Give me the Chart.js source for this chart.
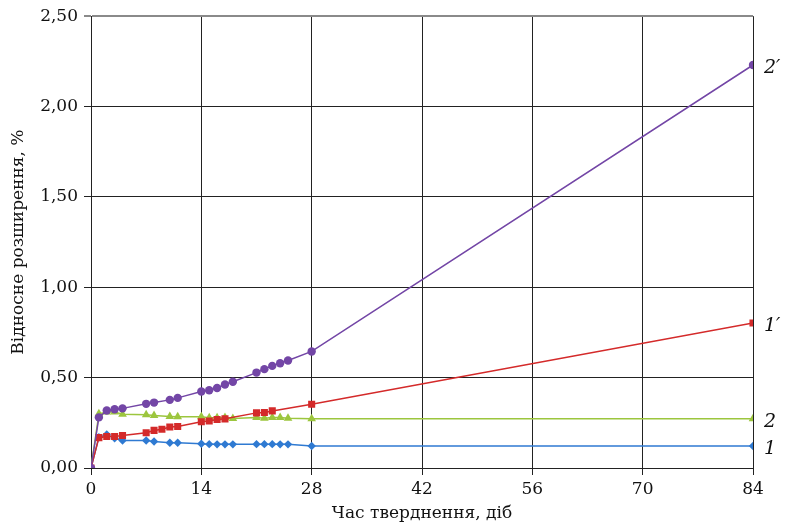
<!DOCTYPE html>
<html>
<head>
<meta charset="utf-8">
<script src="https://cdn.jsdelivr.net/npm/chart.js@4"></script>
<style>
  html, body { margin: 0; padding: 0; background: #fff; }
  #wrap { width: 785px; height: 528px; position: relative; }
</style>
</head>
<body>
<div id="wrap"><canvas id="expChart"></canvas></div>
<script>
// days of hardening and relative expansion (%) per curve
const days2p = [0, 1, 2, 3, 4, 7, 8, 10, 11, 14, 15, 16, 17, 18, 21, 22, 23, 24, 25, 28, 84];
const vals2p = [0, 0.28, 0.318, 0.325, 0.33, 0.355, 0.362, 0.377, 0.388, 0.423, 0.43, 0.443, 0.462, 0.477, 0.528, 0.547, 0.565, 0.58, 0.595, 0.645, 2.23];

const days1p = [0, 1, 2, 3, 4, 7, 8, 9, 10, 11, 14, 15, 16, 17, 21, 22, 23, 28, 84];
const vals1p = [0, 0.168, 0.174, 0.174, 0.18, 0.195, 0.208, 0.214, 0.227, 0.23, 0.256, 0.26, 0.268, 0.272, 0.305, 0.307, 0.316, 0.353, 0.802];

const days2 = [0, 1, 2, 3, 4, 7, 8, 10, 11, 14, 15, 16, 17, 18, 21, 22, 23, 24, 25, 28, 84];
const vals2 = [0, 0.30, 0.31, 0.31, 0.298, 0.294, 0.29, 0.285, 0.283, 0.283, 0.278, 0.278, 0.28, 0.274, 0.28, 0.275, 0.28, 0.279, 0.275, 0.272, 0.272];

const days1 = [0, 1, 2, 3, 4, 7, 8, 10, 11, 14, 15, 16, 17, 18, 21, 22, 23, 24, 25, 28, 84];
const vals1 = [0, 0.17, 0.185, 0.165, 0.152, 0.152, 0.147, 0.14, 0.14, 0.134, 0.132, 0.131, 0.131, 0.131, 0.132, 0.132, 0.132, 0.131, 0.131, 0.122, 0.122];

const xTicks = [0, 14, 28, 42, 56, 70, 84];
const yTicks = [0, 0.5, 1.0, 1.5, 2.0, 2.5];
const curveNames = ['2′', '1′', '2', '1'];

const SERIF = '"DejaVu Serif", "Liberation Serif", serif';

function pts(xs, ys) {
  return xs.map((x, i) => ({ x: x, y: ys[i] }));
}

function series(label, xs, ys, color, style, radius) {
  return {
    label, data: pts(xs, ys),
    borderColor: color, backgroundColor: color,
    borderWidth: 1.5, pointStyle: style,
    pointRadius: radius, pointBorderWidth: 0,
    tension: 0
  };
}

// curve names written next to the last point of each line
const endLabels = {
  id: 'endLabels',
  afterDatasetsDraw(chart) {
    const ctx = chart.ctx;
    ctx.save();
    ctx.font = 'italic 19px ' + SERIF;
    ctx.fillStyle = '#111';
    ctx.textBaseline = 'middle';
    chart.data.datasets.forEach((ds, i) => {
      const meta = chart.getDatasetMeta(i);
      const last = meta.data[meta.data.length - 1];
      ctx.fillText(curveNames[i], last.x + 11, last.y + 3);
    });
    ctx.restore();
  }
};

new Chart(document.getElementById('expChart'), {
  type: 'line',
  data: {
    datasets: [
      series('2′', days2p, vals2p, '#7346a6', 'circle', 4.2),
      series('1′', days1p, vals1p, '#d42a2a', 'rect', 5),
      series('2', days2, vals2, '#9cc63e', 'triangle', 5),
      series('1', days1, vals1, '#2f7ad2', 'rectRot', 4.2)
    ]
  },
  options: {
    responsive: true,
    maintainAspectRatio: false,
    animation: false,
    layout: { padding: { top: 9, right: 32, left: 0, bottom: 0 } },
    plugins: { legend: { display: false }, tooltip: { enabled: false } },
    scales: {
      x: {
        type: 'linear', min: 0, max: 84,
        afterBuildTicks: (s) => { s.ticks = xTicks.map(v => ({ value: v })); },
        afterFit: (s) => { s.height = 60; },
        grid: { color: '#222', lineWidth: 1, tickLength: 7 },
        border: { color: '#222', width: 1 },
        ticks: { color: '#111', font: { family: SERIF, size: 17 }, padding: 4 },
        title: {
          display: true, text: 'Час тверднення, діб', color: '#111',
          font: { family: SERIF, size: 17 }, padding: { top: 0, bottom: 4 }
        }
      },
      y: {
        min: 0, max: 2.5,
        afterBuildTicks: (s) => { s.ticks = yTicks.map(v => ({ value: v })); },
        afterFit: (s) => { s.width = 91; },
        grid: {
          color: (c) => (c.tick && c.tick.value === 2.5 ? '#8a8a8a' : '#222'),
          lineWidth: (c) => (c.tick && c.tick.value === 2.5 ? 2 : 1),
          tickLength: 7
        },
        border: { color: '#222', width: 1 },
        ticks: {
          color: '#111', font: { family: SERIF, size: 17 }, padding: 6,
          callback: (v) => v.toFixed(2).replace('.', ',')
        },
        title: {
          display: true, text: 'Відносне розширення, %', color: '#111',
          font: { family: SERIF, size: 17 }, padding: { top: 8, bottom: 4 }
        }
      }
    }
  },
  plugins: [endLabels]
});
</script>
</body>
</html>
